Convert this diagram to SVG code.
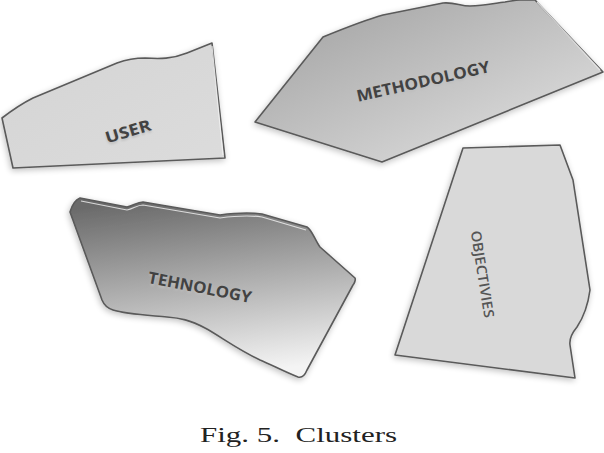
<svg xmlns="http://www.w3.org/2000/svg" width="604" height="453" viewBox="0 0 604 453">
<style>
.shape{stroke:#5a5a5a;stroke-width:1.6;stroke-linejoin:round;filter:url(#sh)}
.hl{fill:none;stroke:#f4f4f4;stroke-width:1.2;stroke-linejoin:round;opacity:0.8}
.lbl{font-family:"Open Sans","Noto Sans",sans-serif;font-weight:bold;font-size:16px;fill:#424242;text-anchor:middle;dominant-baseline:central}
.lblsh{font-family:"Open Sans","Noto Sans",sans-serif;font-weight:bold;font-size:16px;fill:#bdbdbd;text-anchor:middle;dominant-baseline:central;filter:url(#tb)}
.cap{font-family:"Liberation Serif","DejaVu Serif",serif;font-size:22px;fill:#222}
</style>
<defs>
<filter id="sh" x="-10%" y="-10%" width="120%" height="125%">
<feGaussianBlur in="SourceAlpha" stdDeviation="3"/>
<feOffset dx="-1" dy="2" result="b"/>
<feComponentTransfer><feFuncA type="linear" slope="0.25"/></feComponentTransfer>
<feMerge><feMergeNode/><feMergeNode in="SourceGraphic"/></feMerge>
</filter>
<filter id="tb" x="-20%" y="-50%" width="140%" height="200%"><feGaussianBlur stdDeviation="1"/></filter>
<linearGradient id="gM" x1="0" y1="0" x2="1" y2="1">
<stop offset="0" stop-color="#9e9e9e"/><stop offset="1" stop-color="#e6e6e6"/>
</linearGradient>
<linearGradient id="gT" x1="0.3" y1="0" x2="0.5" y2="1">
<stop offset="0" stop-color="#6a6a6a"/><stop offset="1" stop-color="#f4f4f4"/>
</linearGradient>
<linearGradient id="gU" x1="0" y1="0" x2="1" y2="1">
<stop offset="0" stop-color="#d4d4d4"/><stop offset="1" stop-color="#dcdcdc"/>
</linearGradient>
</defs>
<rect width="604" height="453" fill="#ffffff"/>
<g id="user">
<path class="shape" fill="url(#gU)" d="M2,118 C15,108 25,102 33,98 L117,63 C128,59 135,58 145,58 C160,59 172,59 187,53 L212,43 L225,158 L13,168 Z"/>
<path class="hl" d="M212,46 L223,155"/>
<text class="lblsh" transform="translate(128,133) rotate(-17)" textLength="47" lengthAdjust="spacingAndGlyphs">USER</text>
<text class="lbl" transform="translate(128,131) rotate(-17)" textLength="47" lengthAdjust="spacingAndGlyphs">USER</text>
</g>
<g id="methodology">
<path class="shape" fill="url(#gM)" d="M255,122 L323,37 C345,28 365,20 383,15 L443,3 C455,2 460,6 470,6 C485,6 495,3 505,2 C512,1 515,0 520,0 L535,0 L603,72 L382,162 Z"/>
<path class="hl" d="M537,2 L600,70"/>
<text class="lblsh" transform="translate(423,83) rotate(-12.7)" textLength="136" lengthAdjust="spacingAndGlyphs">METHODOLOGY</text>
<text class="lbl" transform="translate(423,81) rotate(-12.7)" textLength="136" lengthAdjust="spacingAndGlyphs">METHODOLOGY</text>
</g>
<g id="tehnology">
<path class="shape" fill="url(#gT)" d="M70,212 C72,205 75,200 80,198 L127,207 C133,206 137,202 143,202 L220,215 C235,213 248,212 262,214 L307,227 C312,230 315,240 320,247 L355,278 C356,280 354,284 353,285 L307,370 C305,375 302,378 298,377 C285,372 272,365 260,360 C235,348 220,336 205,328 C190,320 180,318 167,317 C145,315 125,314 113,310 C107,308 104,305 102,300 Z"/>
<path class="hl" d="M81,201 L127,210 C133,209 137,205 143,205 L220,218 C235,216 248,215 262,217 L306,230"/>
<text class="lblsh" transform="translate(200,289) rotate(11)" textLength="105" lengthAdjust="spacingAndGlyphs">TEHNOLOGY</text>
<text class="lbl" transform="translate(200,287) rotate(11)" textLength="105" lengthAdjust="spacingAndGlyphs">TEHNOLOGY</text>
</g>
<g id="objectivies">
<path class="shape" fill="#d9d9d9" d="M463,148 L560,145 L573,180 L590,290 C588,305 583,318 577,327 C572,333 569,338 570,345 L575,378 L395,355 Z"/>
<text transform="translate(483,274) rotate(81)" textLength="88" lengthAdjust="spacingAndGlyphs" style="font-family:'Open Sans','Noto Sans',sans-serif;font-weight:600;font-size:14px;fill:#555;text-anchor:middle;dominant-baseline:central">OBJECTIVIES</text>
</g>
<g id="connectors"></g>
<text class="cap" x="200" y="442" textLength="197" lengthAdjust="spacingAndGlyphs" xml:space="preserve">Fig. 5.  Clusters</text>
</svg>
